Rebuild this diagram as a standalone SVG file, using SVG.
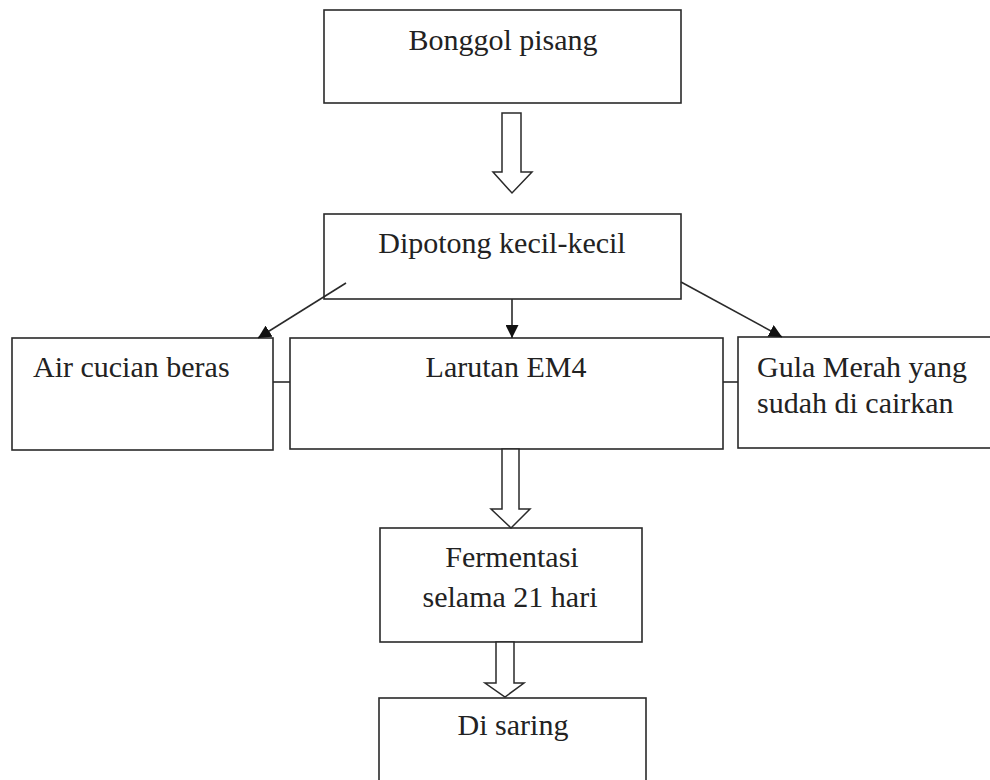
<svg xmlns="http://www.w3.org/2000/svg" width="990" height="780" viewBox="0 0 990 780">
<style>
.box{fill:#fff;stroke:#2a2a2a;stroke-width:1.6}
.t{font-family:"Liberation Serif","Times New Roman",serif;font-size:30px;fill:#222}
.m{text-anchor:middle}
.ln{stroke:#2a2a2a;stroke-width:1.6;fill:none}
.hollow{fill:#fff;stroke:#2a2a2a;stroke-width:1.5;stroke-linejoin:miter}
</style>
<defs>
<marker id="ah" viewBox="0 0 10 10" refX="10" refY="5" markerWidth="13" markerHeight="13" markerUnits="userSpaceOnUse" orient="auto">
<path d="M0,0 L10,5 L0,10 Z" fill="#111"/>
</marker>
</defs>
<rect width="990" height="780" fill="#fff"/>
<g id="bonggol">
<rect class="box" x="324" y="10" width="357" height="93"/>
<text class="t m" x="503" y="50">Bonggol pisang</text>
</g>
<g id="dipotong">
<rect class="box" x="324" y="214" width="357" height="85"/>
<text class="t m" x="502" y="253">Dipotong kecil-kecil</text>
</g>
<g id="air">
<rect class="box" x="12" y="338" width="261" height="112"/>
<text class="t" x="33" y="377">Air cucian beras</text>
</g>
<g id="larutan">
<rect class="box" x="290" y="338" width="433" height="111"/>
<text class="t m" x="506" y="377">Larutan EM4</text>
</g>
<g id="gula">
<rect class="box" x="738" y="337" width="260" height="111"/>
<text class="t" x="757" y="377">Gula Merah yang</text>
<text class="t" x="757" y="413">sudah di cairkan</text>
</g>
<g id="fermentasi">
<rect class="box" x="380" y="528" width="262" height="114"/>
<text class="t m" x="512" y="567">Fermentasi</text>
<text class="t m" x="510" y="607">selama 21 hari</text>
</g>
<g id="disaring">
<rect class="box" x="379" y="698" width="267" height="100"/>
<text class="t m" x="513" y="735">Di saring</text>
</g>
<g id="connectors">
<line class="ln" x1="273" y1="382" x2="290" y2="382"/>
<line class="ln" x1="723" y1="382" x2="738" y2="382"/>
<line class="ln" x1="346" y1="283" x2="258" y2="338" marker-end="url(#ah)"/>
<line class="ln" x1="512" y1="299" x2="512" y2="338" marker-end="url(#ah)"/>
<line class="ln" x1="681" y1="282" x2="782" y2="337" marker-end="url(#ah)"/>
<polygon class="hollow" points="502,113 521,113 521,172 532,172 512,193 493,172 502,172"/>
<polygon class="hollow" points="502,449 519,449 519,509 530,509 511,528 491,509 502,509"/>
<polygon class="hollow" points="496,642 514,642 514,683 524,683 505,697 485,683 496,683"/>
</g>
</svg>
